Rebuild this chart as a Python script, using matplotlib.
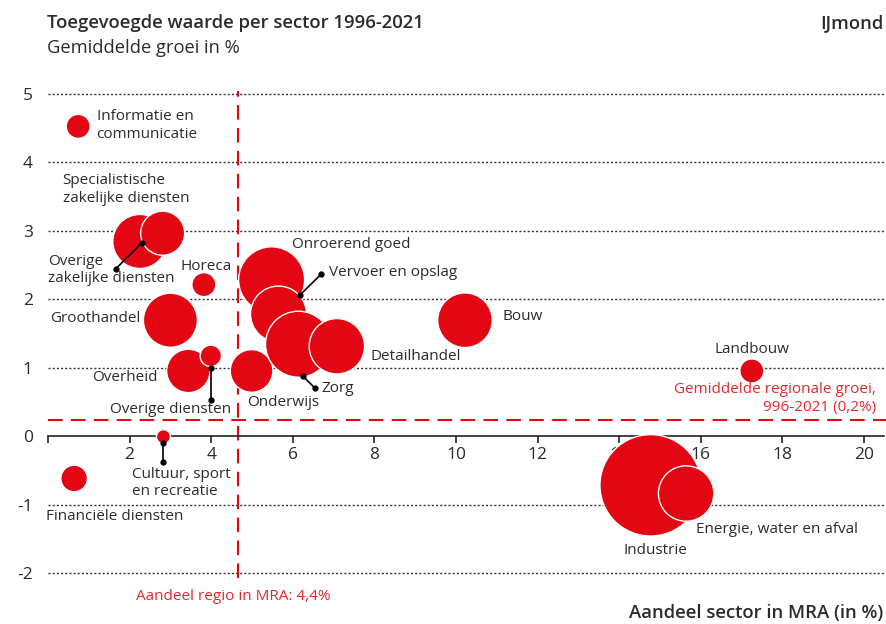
import matplotlib.pyplot as plt

plt.rcParams['font.family'] = ['Open Sans', 'DejaVu Sans']

W, H = 886, 624
ROOD = '#e30613'
ROOD_TEKST = '#e4282f'
TEKST = '#2b2b2b'

# sector data: aandeel in MRA (%), gemiddelde groei (%), omvang (relatief)
sectoren = ['Informatie en communicatie', 'Overige zakelijke diensten',
            'Specialistische zakelijke diensten', 'Horeca', 'Groothandel',
            'Overheid', 'Overige diensten', 'Cultuur, sport en recreatie',
            'Financiële diensten', 'Onderwijs', 'Onroerend goed',
            'Vervoer en opslag', 'Zorg', 'Detailhandel', 'Bouw', 'Landbouw',
            'Industrie', 'Energie, water en afval']
aandeel = [0.74, 2.25, 2.81, 3.82, 3.00, 3.44, 3.99, 2.83, 0.64, 4.99,
           5.48, 5.65, 6.14, 7.08, 10.22, 17.25, 14.77, 15.64]
groei = [4.52, 2.84, 2.96, 2.21, 1.69, 0.95, 1.17, -0.01, -0.62, 0.95,
         2.28, 1.78, 1.34, 1.31, 1.69, 0.95, -0.72, -0.84]
omvang = [144, 729, 484, 144, 729, 470, 114, 49, 177, 454,
          1089, 784, 1089, 767, 745, 144, 2570, 767]

aandeel_regio = 4.65   # getoond als 4,4%
groei_regio = 0.24     # getoond als 0,2%

y_ticks = [-2, -1, 0, 1, 2, 3, 4, 5]
y_ticklabels = ['-2', '-1', '0', '1', '2', '3', '4', '5']
x_ticks = list(range(0, 21, 2))
x_ticklabels = [''] + [str(v) for v in range(2, 21, 2)]

fig = plt.figure(figsize=(W / 100, H / 100), dpi=100)

# axes placed so that x=0 -> px 48, 1 unit = 40.8 px; y=0 -> px 436, 1 unit = 68.5 px
x0, sx, y0, sy = 48, 40.8, 436, 68.5
xmin, xmax, ymin, ymax = 0, 20.5, -2.1, 5.1
left = x0 / W
right = (x0 + xmax * sx) / W
top = 1 - (y0 - ymax * sy) / H
bottom = 1 - (y0 - ymin * sy) / H
ax = fig.add_axes([left, bottom, right - left, top - bottom])
ax.set_xlim(xmin, xmax)
ax.set_ylim(ymin, ymax)

for s in ['top', 'right', 'left']:
    ax.spines[s].set_visible(False)
ax.spines['bottom'].set_position(('data', 0))
ax.spines['bottom'].set_linewidth(1.2)
ax.spines['bottom'].set_color('#222222')

ax.set_xticks(x_ticks)
ax.set_xticklabels(x_ticklabels)
ax.set_yticks(y_ticks)
ax.set_yticklabels(y_ticklabels)
ax.tick_params(axis='x', direction='out', length=5, width=1.2, color='#222222',
               pad=3, labelsize=12.5, labelcolor=TEKST)
ax.tick_params(axis='y', length=0, pad=11, labelsize=12.5, labelcolor=TEKST)

for v in [-2, -1, 1, 2, 3, 4, 5]:
    ax.axhline(v, color='#333333', lw=1, linestyle=(0, (1.5, 1.5)), zorder=0)

ax.plot([aandeel_regio, aandeel_regio], [-2.07, 5.03], color=ROOD, lw=1.5,
        linestyle=(0, (7, 4)), clip_on=False, zorder=1)
ax.plot([0, 20.6], [groei_regio, groei_regio], color=ROOD, lw=1.5,
        linestyle=(0, (7, 4)), clip_on=False, zorder=1)

sizes = [(2 * 0.72) ** 2 * o for o in omvang]
ax.scatter(aandeel, groei, s=sizes, color=ROOD, edgecolor='white',
           linewidth=1, zorder=3)

# verbindingslijnen naar labels
lijnen = [([2.30, 1.66], [2.82, 2.44]),
          ([3.99, 3.99], [1.00, 0.53]),
          ([2.83, 2.83], [-0.10, -0.38]),
          ([6.18, 6.69], [2.06, 2.36]),
          ([6.24, 6.54], [0.88, 0.70])]
for lx, ly in lijnen:
    ax.plot(lx, ly, color='black', lw=1.2, marker='o', ms=3.5, zorder=4)

labels = [
    (1.19, 4.53, 'Informatie en\ncommunicatie', 'left'),
    (0.36, 3.60, 'Specialistische\nzakelijke diensten', 'left'),
    (0.01, 2.42, 'Overige\nzakelijke diensten', 'left'),
    (3.24, 2.48, 'Horeca', 'left'),
    (0.05, 1.71, 'Groothandel', 'left'),
    (1.07, 0.85, 'Overheid', 'left'),
    (1.52, 0.38, 'Overige diensten', 'left'),
    (2.05, -0.69, 'Cultuur, sport\nen recreatie', 'left'),
    (-0.06, -1.17, 'Financiële diensten', 'left'),
    (4.88, 0.49, 'Onderwijs', 'left'),
    (5.97, 2.80, 'Onroerend goed', 'left'),
    (6.89, 2.38, 'Vervoer en opslag', 'left'),
    (6.71, 0.70, 'Zorg', 'left'),
    (7.91, 1.16, 'Detailhandel', 'left'),
    (11.14, 1.74, 'Bouw', 'left'),
    (17.25, 1.27, 'Landbouw', 'center'),
    (15.88, -1.37, 'Energie, water en afval', 'left'),
    (14.88, -1.67, 'Industrie', 'center'),
]
for tx, ty, t, ha in labels:
    ax.text(tx, ty, t, ha=ha, va='center', fontsize=11, color=TEKST,
            linespacing=1.22, zorder=5, clip_on=False)

ax.text(20.29, 0.55, 'Gemiddelde regionale groei,\n996-2021 (0,2%)', ha='right',
        va='center', fontsize=11, color=ROOD_TEKST, linespacing=1.22, zorder=5)


def ftext(px, py, t, **kw):
    fig.text(px / W, 1 - py / H, t, **kw)


ftext(47, 23, 'Toegevoegde waarde per sector 1996-2021', ha='left', va='center',
      fontsize=13.3, fontweight=600, color=TEKST)
ftext(47, 48, 'Gemiddelde groei in %', ha='left', va='center', fontsize=13.2,
      color=TEKST)
ftext(883, 23, 'IJmond', ha='right', va='center', fontsize=13.3,
      fontweight=600, color=TEKST)
ftext(136, 596, 'Aandeel regio in MRA: 4,4%', ha='left', va='center',
      fontsize=11, color=ROOD_TEKST)
ftext(883, 613, 'Aandeel sector in MRA (in %)', ha='right', va='center',
      fontsize=13.3, fontweight=600, color=TEKST)

fig.savefig('out.png', dpi=100)
